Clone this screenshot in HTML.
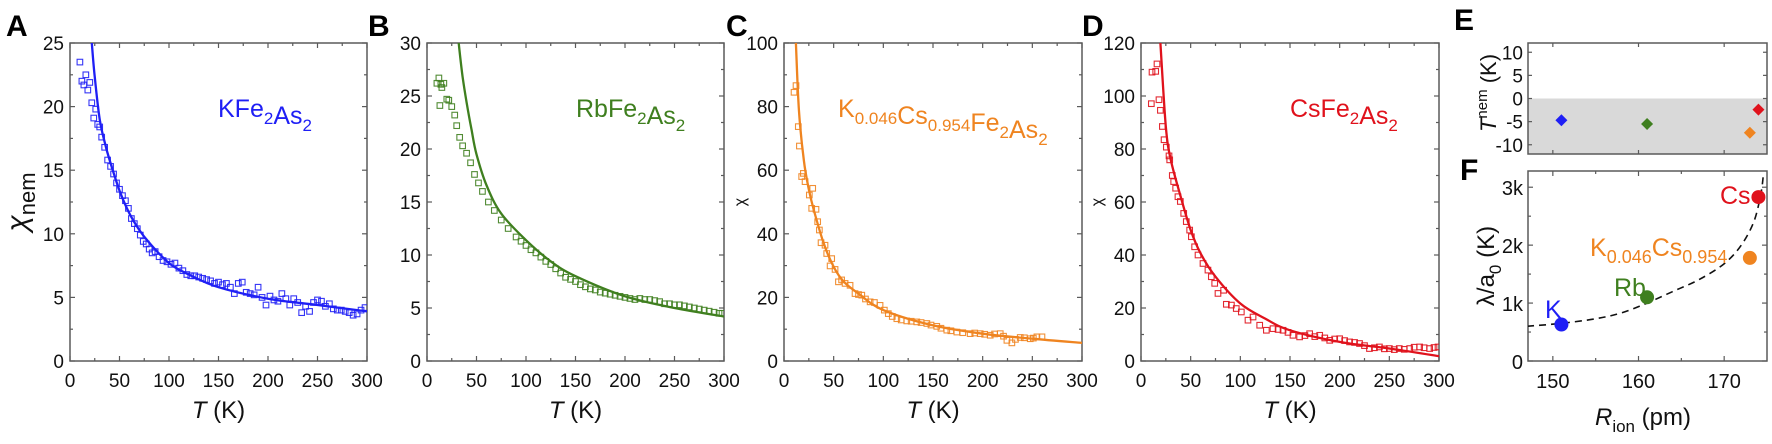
<!DOCTYPE html>
<html><head><meta charset="utf-8">
<style>
html,body{margin:0;padding:0;background:#fff;}
body{width:1772px;height:439px;overflow:hidden;font-family:"Liberation Sans",Arial,sans-serif;}
svg text{font-family:"Liberation Sans",Arial,sans-serif;}
</style></head>
<body>
<svg id="fig" width="1772" height="439" viewBox="0 0 1772 439" xmlns="http://www.w3.org/2000/svg">
<g id="static">
<text x="6" y="36" font-size="30" font-weight="bold">A</text>
<text x="368" y="36" font-size="30" font-weight="bold">B</text>
<text x="726" y="36" font-size="30" font-weight="bold">C</text>
<text x="1082" y="36" font-size="30" font-weight="bold">D</text>
<text x="1454" y="30" font-size="30" font-weight="bold">E</text>
<text x="1460" y="180" font-size="30" font-weight="bold">F</text>
</g>
</svg>
<script>
// ---- Panel A data (KFe2As2) ----
const aT=[10,12,14,16,18,20,22,24,26,28,30,32,35,38,41,44,47,50,53,56,59,62,65,68,71,74,77,80,83,86,90,94,98,102,106,110,114,118,122,126,130,134,138,142,146,150,154,158,162,166,170,174,178,182,186,190,194,198,202,206,210,214,218,222,226,230,234,238,242,246,250,254,258,262,266,270,274,278,282,286,290,294,298];
const aV=[23.5,22,21.7,22.5,21.3,21.9,20.3,19.1,19.8,18.6,18.4,17.6,16.8,15.8,15.3,14.7,14,13.5,13,12.6,12,11.2,10.8,10.4,9.9,9.4,9.2,8.8,8.5,8.6,8.2,7.9,7.8,7.6,7.7,7.3,7.1,6.8,6.7,6.7,6.6,6.5,6.4,6.3,6.1,6.2,6.0,6.1,5.8,5.3,6.1,6.2,5.4,5.3,5.2,5.8,5.0,4.4,5.1,4.8,4.7,5.3,4.9,4.4,4.9,4.6,3.8,4.3,3.9,4.6,4.8,4.7,4.3,4.5,4.1,4.0,4.0,3.9,3.8,3.6,3.7,4.0,4.2];
const aFitT=[22,25,30,35,40,50,60,70,80,100,120,150,200,250,300];
const aFitV=[25,22.3,19,17.2,15.8,13.4,11.6,10.3,9.3,7.7,6.8,5.8,4.9,4.4,3.9];
// ---- Panel B data (RbFe2As2) ----
const bT=[10,12,14,15,17,13,20,22,25,28,30,33,36,40,44,48,52,56,62,68,75,82,90,95,100,105,110,115,120,125,130,135,140,145,150,155,160,165,170,175,180,185,190,195,200,205,210,215,220,225,230,235,240,245,250,255,260,265,270,275,280,285,290,295,298];
const bV=[26.2,26.7,26.1,25.8,26.2,24.1,24.7,24.6,24,23.2,22.2,21.1,20.3,19.6,18.7,17.6,16.8,16,15,14.2,13.3,12.5,11.7,11.3,10.9,10.5,10.2,9.8,9.4,9.1,8.7,8.3,7.9,7.7,7.5,7.2,7.0,6.8,6.7,6.5,6.4,6.3,6.2,6.1,6.0,5.9,5.8,5.9,5.8,5.8,5.7,5.6,5.4,5.4,5.3,5.3,5.2,5.1,5.0,4.9,4.8,4.7,4.6,4.5,4.5];
const bFitT=[32,36,40,45,50,60,75,100,125,150,200,250,300];
const bFitV=[30,26.8,24.4,21.8,19.5,16.6,13.9,11.4,9.4,8.0,6.1,5.0,4.2];
// ---- Panel C data (K0.046Cs0.954Fe2As2) ----
const cT=[10.1,12.1,14.4,15.5,17.8,19.5,21.2,25.5,28.9,27.9,32.2,33.9,35.6,37.3,41.3,43,46.4,48,51.4,54.8,58,61.5,66.5,71.5,75,78.3,82,86.7,91,96.7,101,105,109,113.6,118,123.6,128,133.7,138,143.8,148,153.8,158,163.9,168,174,180,187.4,192,197.5,202,207.6,212,217.7,221,224.4,229.4,233,237.8,242,247.9,251,254.6,259.7];
const cV=[84.5,86.6,73.7,67.6,58,59,56.4,52.2,54.3,48,47.7,43.8,41.2,37.2,36.4,33.8,29.9,32.2,28.8,24.9,25.5,24.4,23.8,21.2,20.9,20.7,19.5,18.6,18.4,17.5,16,14.9,14,13.3,12.9,12.6,12.5,12.3,12.1,11.8,11.3,10.9,10.3,9.7,9.5,9.1,8.9,8.6,8.8,8.6,8.4,8.1,8.5,8.6,7.8,6.5,5.7,6.8,7.4,7.3,7.0,7.2,7.6,7.6];
const cFitT=[12,15,20,25,30,40,50,60,75,100,150,200,250,300];
const cFitV=[100,79,63,54,47.5,37,29.6,25,21.2,16,11.2,8.6,7,5.7];
// ---- Panel D data (CsFe2As2) ----
const dT=[10.4,11.1,14.8,16.1,18.1,19.5,21.5,23.2,25.5,28.2,28.9,31.5,32.9,34.9,37.2,39.6,43,45.6,49,50.7,54,57.4,62.4,67.4,70.8,74.2,77.5,83.2,85.9,91,95.9,101,107.7,112.8,119.5,126.2,132.9,138,143,148,153,159.7,165,169.8,175,179.9,185,190,195,200,205,210,215,220,225,230,235,240,245,250,255,260,265,270.5,275,280.5,285,290.6,295,299];
const dV=[97.1,109,109.3,112.1,98.6,94.6,88.5,83.5,80.7,77.4,75.9,70,67.7,65.2,62,60.2,55.7,52.6,49.4,46.9,43.1,40,36.8,34.3,31.8,29.3,25.5,26.7,21.4,21.1,19.8,18.5,15.4,16.6,13.5,11.6,12.2,11.9,11.6,10.8,9.7,9.1,9.6,10.3,9.2,9.7,8.7,7.8,8.3,8.4,7.7,7.2,7.0,6.6,5.8,4.7,5.0,5.3,4.6,4.7,4.3,4.7,4.4,4.7,5.2,5.3,5.0,4.7,5.1,5.3];
const dFitT=[19.5,25,30,40,50,60,75,100,125,150,200,250,300];
const dFitV=[120,88.5,75.9,62,49.4,40.6,31.8,21.7,16,11.6,7.2,4.7,1.8];
// ---- Panel E / F data ----
const ionNames=["K","Rb","K0.046Cs0.954","Cs"];
const ionR=[151,161,173,174];
const tNem=[-4.7,-5.5,-7.4,-2.4];
const lambdaA0=[630,1100,1780,2830];
const fitR=[147,151,155,158,161,164,167,170,172,173.5,174.3,174.6];
const fitL=[600,650,730,830,1000,1200,1400,1680,2000,2420,2900,3250];
const xTicksT=[0,50,100,150,200,250,300];

const NS="http://www.w3.org/2000/svg";
const svg=document.getElementById('fig');
function mk(tag,attrs,parent){const e=document.createElementNS(NS,tag);for(const k in attrs)e.setAttribute(k,attrs[k]);(parent||svg).appendChild(e);return e;}
function fmtTick(v){return String(v);}
// smooth path through points (Catmull-Rom -> cubic Bezier)
function smoothPath(pts){
  let d='M'+pts[0][0].toFixed(1)+','+pts[0][1].toFixed(1);
  for(let i=0;i<pts.length-1;i++){
    const p0=pts[Math.max(0,i-1)],p1=pts[i],p2=pts[i+1],p3=pts[Math.min(pts.length-1,i+2)];
    const c1x=p1[0]+(p2[0]-p0[0])/6,c1y=p1[1]+(p2[1]-p0[1])/6;
    const c2x=p2[0]-(p3[0]-p1[0])/6,c2y=p2[1]-(p3[1]-p1[1])/6;
    d+=`C${c1x.toFixed(1)},${c1y.toFixed(1)} ${c2x.toFixed(1)},${c2y.toFixed(1)} ${p2[0].toFixed(1)},${p2[1].toFixed(1)}`;
  }
  return d;
}

function drawBox(g,x0,x1,y0,y1,name){
  const r=mk('rect',{x:x0,y:y0,width:x1-x0,height:y1-y0,fill:'none',stroke:'#5a5a5a','stroke-width':1.5},g);
  
  
}

function tickMarks(g,xs,ys,x0,x1,y0,y1,len){
  xs.forEach(px=>{mk('line',{x1:px,x2:px,y1:y1,y2:y1-len,stroke:'#5a5a5a','stroke-width':1.2},g);mk('line',{x1:px,x2:px,y1:y0,y2:y0+len,stroke:'#5a5a5a','stroke-width':1.2},g);});
  ys.forEach(py=>{mk('line',{x1:x0,x2:x0+len,y1:py,y2:py,stroke:'#5a5a5a','stroke-width':1.2},g);mk('line',{x1:x1,x2:x1-len,y1:py,y2:py,stroke:'#5a5a5a','stroke-width':1.2},g);});
}

function chiPanel(id,x0,x1,ymax,ystep,T,V,fT,fV,color,legendHTML,legX,yTitle){
  const y0=43,y1=361;
  const g=mk('g',{});
  
  
  const sx=t=>x0+(t/300)*(x1-x0);
  const sy=v=>y1-(v/ymax)*(y1-y0);
  drawBox(g,x0,x1,y0,y1,'panel-'+id);
  const minorX=[],majorX=[],minorY=[],majorY=[];
  for(let t=0;t<=300;t+=25)(t%50===0?majorX:minorX).push(sx(t));
  for(let v=0;v<=ymax;v+=ystep/2)(Math.abs(v/ystep-Math.round(v/ystep))<1e-6?majorY:minorY).push(sy(v));
  tickMarks(g,majorX,majorY,x0,x1,y0,y1,5);
  tickMarks(g,minorX,minorY,x0,x1,y0,y1,3);
  xTicksT.forEach(t=>{const tx=mk('text',{x:sx(t),y:y1+26,'font-size':19,'text-anchor':'middle',fill:'#111'},g);tx.textContent=fmtTick(t);
    
    });
  for(let v=0;v<=ymax;v+=ystep){const ty=mk('text',{x:x0-6,y:sy(v)+7,'font-size':19,'text-anchor':'end',fill:'#111'},g);ty.textContent=fmtTick(v);
    
    }
  const xt=mk('text',{x:(x0+x1)/2,y:418,'font-size':24,'text-anchor':'middle',fill:'#111'},g);
  xt.innerHTML='<tspan font-style="italic">T</tspan> (K)';
  
  
  if(yTitle){const yt=mk('text',{transform:`translate(${yTitle.x},${yTitle.y}) rotate(-90)`,'font-size':yTitle.size,'text-anchor':'middle',fill:'#111'},g);yt.innerHTML=yTitle.html;
    
    }
  const cp=mk('clipPath',{id:'clip-'+id},g);mk('rect',{x:x0,y:y0,width:x1-x0,height:y1-y0},cp);
  const dg=mk('g',{'clip-path':`url(#clip-${id})`},g);
  T.forEach((t,i)=>{const s=mk('rect',{x:sx(t)-2.8,y:sy(V[i])-2.8,width:5.6,height:5.6,fill:'none',stroke:color,'stroke-width':1.1,opacity:0.9},dg);
    
    });
  const pts=fT.map((t,i)=>[sx(t),sy(fV[i])]);
  const p=mk('path',{d:smoothPath(pts),fill:'none',stroke:color,'stroke-width':2.3,'stroke-linejoin':'round'},dg);
  
  
  const lg=mk('text',{x:legX,y:117,'font-size':25,fill:color},g);lg.innerHTML=legendHTML;
  
  
}
const sub=s=>`<tspan font-size="17" dy="7">${s}</tspan><tspan dy="-7"></tspan>`;
chiPanel('a',70,367,25,5,aT,aV,aFitT,aFitV,'#1f1ff5','KFe'+sub('2')+'As'+sub('2'),218,{x:27,y:202,size:30,html:'<tspan font-style="italic">χ</tspan><tspan font-size="22" dy="8">nem</tspan>'});
chiPanel('b',427,724,30,5,bT,bV,bFitT,bFitV,'#3f7f1f','RbFe'+sub('2')+'As'+sub('2'),576,null);
chiPanel('c',784,1082,100,20,cT,cV,cFitT,cFitV,'#ef8420','K'+sub('0.046')+'Cs'+sub('0.954')+'Fe'+sub('2')+'As'+sub('2'),838,{x:745,y:202,size:16,html:'χ'});
chiPanel('d',1141,1439,120,20,dT,dV,dFitT,dFitV,'#e0121c','CsFe'+sub('2')+'As'+sub('2'),1290,{x:1102,y:202,size:16,html:'χ'});

// ---- Panel E ----
const colors=['#1f1ff5','#3f7f1f','#ef8420','#e0121c'];
(function(){
  const x0=1528,x1=1767,y0=43,y1=154;
  const sx=r=>x0+(r-147.1)/(175-147.1)*(x1-x0);
  const sy=v=>y1-(v+12)/24*(y1-y0);
  const g=mk('g',{});
  
  
  const bg=mk('rect',{x:x0,y:sy(0),width:x1-x0,height:y1-sy(0),fill:'#d9d9d9'},g);
  
  
  drawBox(g,x0,x1,y0,y1,'panel-e');
  const yt=[10,5,0,-5,-10];
  tickMarks(g,[sx(150),sx(160),sx(170)],yt.map(sy),x0,x1,y0,y1,4);
  yt.forEach(v=>{const t=mk('text',{x:x0-5,y:sy(v)+7,'font-size':19,'text-anchor':'end',fill:'#111'},g);t.textContent=String(v);
    
    });
  const ytl=mk('text',{transform:`translate(${1496},${93}) rotate(-90)`,'font-size':22,'text-anchor':'middle',fill:'#111'},g);
  ytl.innerHTML='<tspan font-style="italic">T</tspan><tspan font-size="15" dy="-9">nem</tspan><tspan dy="9"> (K)</tspan>';
  
  
  ionR.forEach((r,i)=>{const cx=sx(r),cy=sy(tNem[i]);
    const m=mk('polygon',{points:`${cx},${cy-6} ${cx+6},${cy} ${cx},${cy+6} ${cx-6},${cy}`,fill:colors[i]},g);
    
    });
})();
// ---- Panel F ----
(function(){
  const x0=1528,x1=1767,y0=171,y1=361;
  const sx=r=>x0+(r-147.1)/(175-147.1)*(x1-x0);
  const sy=v=>y1-v/3280*(y1-y0);
  const g=mk('g',{});
  
  
  drawBox(g,x0,x1,y0,y1,'panel-f');
  tickMarks(g,[150,160,170].map(sx),[0,1000,2000,3000].map(sy),x0,x1,y0,y1,5);
  tickMarks(g,[155,165].map(sx),[500,1500,2500].map(sy),x0,x1,y0,y1,3);
  ['0','1k','2k','3k'].forEach((s,i)=>{const t=mk('text',{x:x0-5,y:sy(i*1000)+8,'font-size':20,'text-anchor':'end',fill:'#111'},g);t.textContent=s;
    
    });
  [150,160,170].forEach(v=>{const t=mk('text',{x:sx(v),y:y1+27,'font-size':20,'text-anchor':'middle',fill:'#111'},g);t.textContent=String(v);
    
    });
  const xt=mk('text',{x:1643,y:425,'font-size':24,'text-anchor':'middle',fill:'#111'},g);
  xt.innerHTML='<tspan font-style="italic">R</tspan><tspan font-size="17" dy="7">ion</tspan><tspan dy="-7"> (pm)</tspan>';
  
  
  const yt=mk('text',{transform:`translate(${1494},${266}) rotate(-90)`,'font-size':24,'text-anchor':'middle',fill:'#111'},g);
  yt.innerHTML='λ/a<tspan font-size="17" dy="7">0</tspan><tspan dy="-7"> (K)</tspan>';
  
  
  const cp=mk('clipPath',{id:'clip-f'},g);mk('rect',{x:x0,y:y0,width:x1-x0,height:y1-y0},cp);
  const pts=fitR.map((r,i)=>[sx(r),sy(fitL[i])]);
  const p=mk('path',{d:smoothPath(pts),fill:'none',stroke:'#111','stroke-width':1.6,'stroke-dasharray':'7,5','clip-path':'url(#clip-f)'},g);
  
  
  ionR.forEach((r,i)=>{const c=mk('circle',{cx:sx(r),cy:sy(lambdaA0[i]),r:7,fill:colors[i]},g);
    
    });
  const labs=[{x:1545,y:318,h:'K'},{x:1614,y:296,h:'Rb'},{x:1590,y:256,h:'K<tspan font-size="18" dy="7">0.046</tspan><tspan dy="-7">Cs</tspan><tspan font-size="18" dy="7">0.954</tspan>'},{x:1720,y:204,h:'Cs'}];
  labs.forEach((l,i)=>{const t=mk('text',{x:l.x,y:l.y,'font-size':25,fill:colors[i]},g);t.innerHTML=l.h;
    
    });
})();
</script>
</body></html>
